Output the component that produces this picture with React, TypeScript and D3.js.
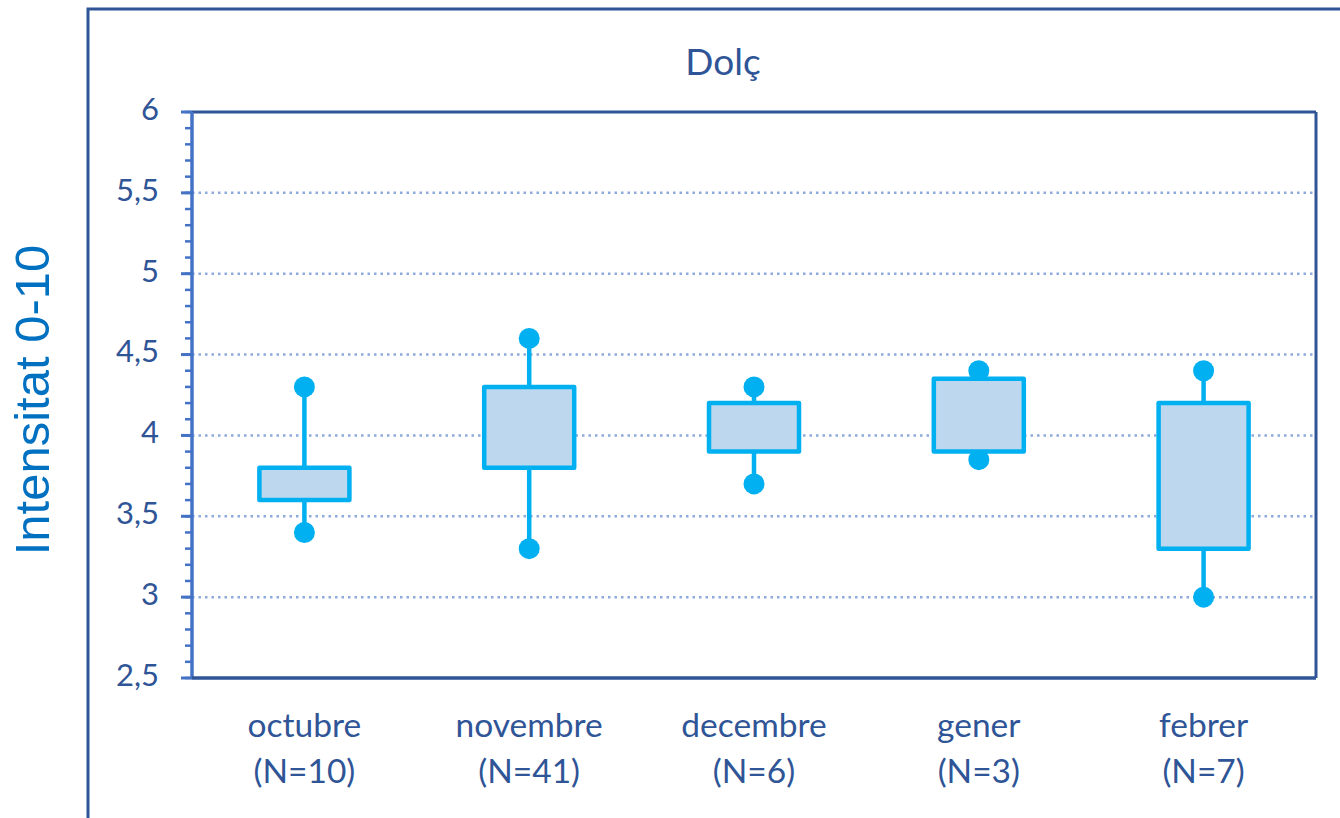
import React from "react";
import * as d3 from "d3";

const categories = ["octubre", "novembre", "decembre", "gener", "febrer"];
const counts = ["(N=10)", "(N=41)", "(N=6)", "(N=3)", "(N=7)"];
const mins = [3.4, 3.3, 3.7, 3.85, 3.0];
const q1s = [3.6, 3.8, 3.9, 3.9, 3.3];
const q3s = [3.8, 4.3, 4.2, 4.35, 4.2];
const maxs = [4.3, 4.6, 4.3, 4.4, 4.4];
const yTicks = [2.5, 3, 3.5, 4, 4.5, 5, 5.5, 6];
const title = "Dolç";
const yTitle = "Intensitat 0-10";

const W = 1340;
const H = 818;
const plot = { left: 192, top: 112, right: 1316, bottom: 678 };
const dark = "#2F5597";
const axisBlue = "#4472C4";
const boxStroke = "#00B0F0";
const boxFill = "#BDD7EE";
const font = "Lato, 'Open Sans', sans-serif";

export default function App() {
  const x = d3.scaleBand<string>().domain(categories).range([plot.left, plot.right]).padding(0);
  const y = d3.scaleLinear().domain([2.5, 6]).range([plot.bottom, plot.top]);
  const minorTicks = d3.range(25, 61).map((v) => v / 10);
  const boxW = 90;

  return (
    <div style={{ position: "fixed", left: 0, top: 0, width: W, height: H, background: "#fff" }}>
      <svg width={W} height={H} style={{ display: "block" }}>
        <rect x={88} y={9} width={1400} height={1000} fill="none" stroke={dark} strokeWidth={3} />
        <text x={723} y={66} textAnchor="middle" dominantBaseline="middle" fontFamily={font} fontSize={37} fill={dark}>
          {title}
        </text>
        <text
          transform={`translate(36, ${400}) rotate(-90)`}
          textAnchor="middle"
          dominantBaseline="middle"
          fontFamily="'Liberation Sans', Arial, sans-serif"
          fontSize={49}
          fill="#0070C0"
        >
          {yTitle}
        </text>
        {/* gridlines */}
        {yTicks
          .filter((t) => t > 2.5 && t < 6)
          .map((t) => (
            <line
              key={"g" + t}
              x1={plot.left}
              x2={plot.right}
              y1={y(t)}
              y2={y(t)}
              stroke="#8EA9DB"
              strokeWidth={2.5}
              strokeDasharray="2.5 4"
            />
          ))}
        {/* plot frame top/right */}
        <line x1={plot.left} x2={plot.right} y1={plot.top} y2={plot.top} stroke={dark} strokeWidth={3} />
        <line x1={plot.right} x2={plot.right} y1={plot.top} y2={plot.bottom} stroke={dark} strokeWidth={3} />
        {/* minor ticks */}
        {minorTicks.map((t) => (
          <line key={"m" + t} x1={185} x2={plot.left} y1={y(t)} y2={y(t)} stroke={axisBlue} strokeWidth={2.5} />
        ))}
        {yTicks.map((t) => (
          <g key={"t" + t}>
            <line x1={181} x2={plot.left} y1={y(t)} y2={y(t)} stroke={axisBlue} strokeWidth={3} />
            <text
              x={159}
              y={y(t)}
              textAnchor="end"
              dominantBaseline="middle"
              fontFamily={font}
              fontSize={31}
              fill={dark}
            >
              {String(t).replace(".", ",")}
            </text>
          </g>
        ))}
        <line x1={plot.left} x2={plot.left} y1={plot.top} y2={plot.bottom} stroke={axisBlue} strokeWidth={3.5} />
        <line x1={plot.left} x2={plot.right} y1={plot.bottom} y2={plot.bottom} stroke={dark} strokeWidth={3.5} />
        {/* boxes */}
        {categories.map((c, i) => {
          const cx = (x(c) as number) + x.bandwidth() / 2;
          return (
            <g key={c}>
              <line x1={cx} x2={cx} y1={y(maxs[i])} y2={y(mins[i])} stroke={boxStroke} strokeWidth={4.5} />
              <circle cx={cx} cy={y(maxs[i])} r={10.5} fill={boxStroke} />
              <circle cx={cx} cy={y(mins[i])} r={10.5} fill={boxStroke} />
              <rect
                x={cx - boxW / 2}
                y={y(q3s[i])}
                width={boxW}
                height={y(q1s[i]) - y(q3s[i])}
                fill={boxFill}
                stroke={boxStroke}
                strokeWidth={4.5}
                strokeLinejoin="round"
              />
              <text x={cx} y={729} textAnchor="middle" dominantBaseline="middle" fontFamily={font} fontSize={33.5} fill={dark}>
                {c}
              </text>
              <text x={cx} y={775} textAnchor="middle" dominantBaseline="middle" fontFamily={font} fontSize={33.5} fill={dark}>
                {counts[i]}
              </text>
            </g>
          );
        })}
      </svg>
    </div>
  );
}
